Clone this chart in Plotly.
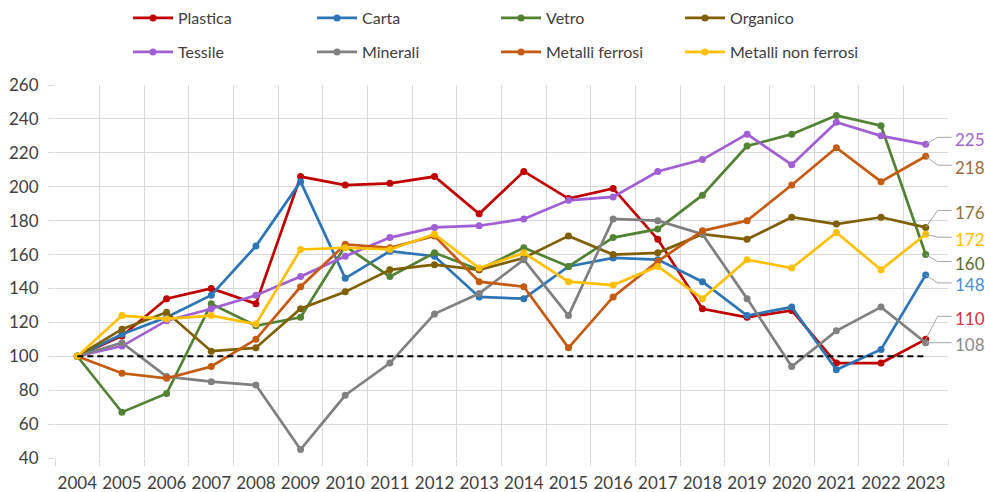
import plotly.graph_objects as go

# data (index 2004 = 100)
years = [str(y) for y in range(2004, 2024)]

plastica = [100, 112, 134, 140, 131, 206, 201, 202, 206, 184, 209, 193, 199, 169, 128, 123, 127, 96, 96, 110]
carta = [100, 113, 123, 136, 165, 203, 146, 162, 159, 135, 134, 153, 158, 157, 144, 124, 129, 92, 104, 148]
vetro = [100, 67, 78, 131, 118, 123, 165, 147, 161, 151, 164, 153, 170, 175, 195, 224, 231, 242, 236, 160]
organico = [100, 116, 126, 103, 105, 128, 138, 151, 154, 151, 158, 171, 160, 161, 172, 169, 182, 178, 182, 176]
tessile = [100, 106, 121, 128, 136, 147, 159, 170, 176, 177, 181, 192, 194, 209, 216, 231, 213, 238, 230, 225]
minerali = [100, 108, 88, 85, 83, 45, 77, 96, 125, 137, 157, 124, 181, 180, 172, 134, 94, 115, 129, 108]
metalli_ferrosi = [100, 90, 87, 94, 110, 141, 166, 164, 171, 144, 141, 105, 135, 156, 174, 180, 201, 223, 203, 218]
metalli_non_ferrosi = [100, 124, 122, 124, 119, 163, 164, 163, 172, 152, 161, 144, 142, 153, 134, 157, 152, 173, 151, 172]
baseline = [100] * len(years)

series = [
    ("Plastica", plastica, "#C00000", "#D9303F", "legend"),
    ("Carta", carta, "#2E75B6", "#4A90D0", "legend"),
    ("Vetro", vetro, "#548235", "#5F6A3A", "legend"),
    ("Organico", organico, "#7F6000", "#8D7540", "legend"),
    ("Tessile", tessile, "#A05FD5", "#A066D3", "legend2"),
    ("Minerali", minerali, "#808080", "#8A8A8A", "legend2"),
    ("Metalli ferrosi", metalli_ferrosi, "#C55A11", "#A5673F", "legend2"),
    ("Metalli non ferrosi", metalli_non_ferrosi, "#FFC000", "#FFC000", "legend2"),
]

# vertical shift (px) of each end label relative to its last point
label_dy = {
    "Plastica": -21, "Carta": 10, "Vetro": 9, "Organico": -15,
    "Tessile": -5, "Minerali": 2, "Metalli ferrosi": 11, "Metalli non ferrosi": 5,
}

W, H = 985, 492
ML, MR, MT, MB = 55, 37, 85, 34
PW, PH = W - ML - MR, H - MT - MB
YMIN, YMAX = 40, 260
FONT = "Lato, 'Open Sans', sans-serif"
GRID = "#D9D9D9"

fig = go.Figure()
for name, vals, col, _, leg in series:
    fig.add_trace(go.Scatter(
        x=years, y=vals, name=name, mode="lines+markers",
        line=dict(color=col, width=2.7), marker=dict(color=col, size=7),
        legend=leg,
    ))

fig.add_trace(go.Scatter(
    x=years, y=baseline, mode="lines", showlegend=False,
    line=dict(color="black", width=2, dash="6px,4px"),
))

# end labels with elbow leader lines (paper coordinates)
n = len(years)
px_x = lambda i: (i + 0.5) / n
to_py = lambda v: (v - YMIN) / (YMAX - YMIN)
shapes, annotations = [], []
for name, vals, col, tcol, _ in series:
    v = vals[-1]
    x0 = px_x(n - 1)
    y0 = to_py(v)
    dy = label_dy[name]
    y1 = y0 - (dy - 2) / PH
    x1 = x0 + 12 / PW
    x2 = x0 + 26 / PW
    shapes.append(dict(
        type="path", xref="paper", yref="paper",
        path=f"M{x0},{y0} L{x1},{y1} L{x2},{y1}",
        line=dict(color="#A6A6A6", width=1),
    ))
    annotations.append(dict(
        xref="paper", yref="paper", x=x0 + 27 / PW, y=y0 - dy / PH,
        text=str(v), showarrow=False, xanchor="left", yanchor="middle",
        font=dict(family=FONT, size=17, color=tcol),
    ))

legend_style = dict(
    orientation="h", xanchor="left", yanchor="middle",
    entrywidth=129, entrywidthmode="pixels", itemwidth=40,
    font=dict(family=FONT, size=16, color="#404040"),
    bgcolor="rgba(0,0,0,0)", tracegroupgap=0,
)

fig.update_layout(
    width=W, height=H,
    margin=dict(l=ML, r=MR, t=MT, b=MB, pad=0, autoexpand=False),
    plot_bgcolor="white", paper_bgcolor="white",
    font=dict(family=FONT, size=17, color="#404040"),
    shapes=shapes, annotations=annotations,
    legend=dict(x=(128 - ML) / PW, y=(H - MB - 18) / PH, **legend_style),
    legend2=dict(x=(128 - ML) / PW, y=(H - MB - 52) / PH, **legend_style),
)
fig.update_xaxes(
    type="category", range=[-0.5, n - 0.5], tickson="boundaries",
    showgrid=True, gridcolor=GRID, gridwidth=1,
    ticks="outside", ticklen=7, tickcolor=GRID, showline=False, zeroline=False,
    tickangle=0, automargin=False,
    ticklabelstandoff=13, tickfont=dict(family=FONT, size=17, color="#404040"),
)
fig.update_yaxes(
    range=[YMIN, YMAX], dtick=20, showgrid=True, gridcolor=GRID, gridwidth=1,
    ticks="outside", ticklen=6, tickcolor=GRID, showline=False, zeroline=False,
    automargin=False,
    ticklabelstandoff=6, tickfont=dict(family=FONT, size=17, color="#404040"),
)

# drop the browser's default body margin so the figure fills the window exactly
fig.write_html(
    "out.html",
    config={"displayModeBar": False},
    post_script="document.body.style.margin='0';",
)
